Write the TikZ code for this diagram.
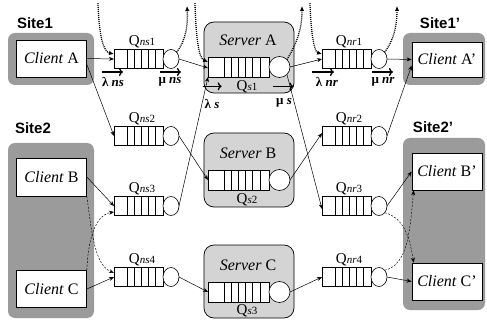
\documentclass[tikz,border=0pt]{standalone}
\usepackage{fontspec}
\setmainfont{Liberation Serif}
\newfontfamily\sitefont{Liberation Sans}
\usetikzlibrary{arrows.meta,calc,shapes.geometric}
\definecolor{sitegray}{HTML}{9B9B9B}
\definecolor{srvgray}{HTML}{D4D4D4}
\tikzset{
  sitebox/.style={fill=sitegray, draw=none, rounded corners=7pt, inner sep=0},
  sitelabel/.style={font=\sitefont\bfseries\fontsize{15}{17}\selectfont, inner sep=0},
  client/.style={draw, fill=white, line width=0.7pt, minimum width=70pt, minimum height=37pt, inner sep=0, font=\fontsize{16}{18}\selectfont},
  srvbox/.style={draw, fill=srvgray, rounded corners=10pt, line width=0.7pt, minimum width=90pt, inner sep=0},
  txt/.style={font=\fontsize{15}{17}\selectfont, inner sep=0},
  srvtxt/.style={font=\fontsize{16}{18}\selectfont, inner sep=0},
  ratelbl/.style={font=\bfseries\fontsize{13}{15}\selectfont, inner sep=0},
  nq/.style={draw, fill=white, line width=0.6pt, minimum width=49pt, minimum height=19pt, inner sep=0, outer sep=0,
    path picture={\foreach \o in {13,20,27,34,41}{\draw[line width=0.6pt] ([xshift=\o pt]path picture bounding box.north west) -- ([xshift=\o pt]path picture bounding box.south west);}}},
  sq/.style={draw, fill=white, line width=0.6pt, minimum width=61pt, minimum height=20pt, inner sep=0, outer sep=0,
    path picture={\foreach \o in {16,23,30,37,44,52}{\draw[line width=0.6pt] ([xshift=\o pt]path picture bounding box.north west) -- ([xshift=\o pt]path picture bounding box.south west);}}},
  nc/.style={draw, fill=white, ellipse, line width=0.6pt, minimum width=16pt, minimum height=19pt, inner sep=0, outer sep=0},
  srvcirc/.style={draw, fill=white, circle, line width=0.6pt, minimum size=21pt, inner sep=0, outer sep=0},
  conn/.style={-{Stealth[length=5pt,width=4pt]}, line width=0.5pt},
  dconn/.style={-{Stealth[length=5pt,width=4pt]}, line width=0.45pt, dash pattern=on 2pt off 1.5pt},
  dotconn/.style={-{Latex[length=5pt,width=4.5pt]}, line width=1.3pt, dash pattern=on 1pt off 1pt},
  rate/.style={-{To[length=4pt,width=8pt,line width=1.3pt]}, line width=1.4pt},
}
\newcommand{\Qlab}[1]{Q{\fontsize{11}{12}\selectfont #1}}
\begin{document}
\begin{tikzpicture}[x=1pt,y=-1pt]
\useasboundingbox (0,0) rectangle (487,323);
% sites
\node[sitebox, minimum width=86pt, minimum height=52pt] (S1) at (51,59) {};
\node[sitebox, minimum width=86pt, minimum height=175pt] (S2) at (51,230.5) {};
\node[sitebox, minimum width=82pt, minimum height=52pt] (S1p) at (444,59) {};
\node[sitebox, minimum width=82pt, minimum height=172pt] (S2p) at (444,224) {};
\node[sitelabel] (L1) at (35,23) {Site1};
\node[sitelabel] (L2) at (33,128) {Site2};
\node[sitelabel] (L1p) at (440,23) {Site1’};
\node[sitelabel] (L2p) at (433,127) {Site2’};
% clients
\node[client] (CA) at (51.5,58.5) {\textit{Client} A};
\node[client, minimum height=38pt] (CB) at (51.5,177) {\textit{Client} B};
\node[client] (CC) at (51.5,289) {\textit{Client} C};
\node[client, minimum height=35pt] (CAp) at (447,59.5) {\textit{Client} A’};
\node[client] (CBp) at (447,171.5) {\textit{Client} B’};
\node[client] (CCp) at (447,281.5) {\textit{Client} C’};
% servers
\node[srvbox, minimum height=71pt] (SA) at (249,57.5) {};
\node[srvbox, minimum height=74pt] (SB) at (249,170) {};
\node[srvbox, minimum height=73pt] (SC) at (249,281.5) {};
\node[srvtxt] (SAt) at (248,40) {\textit{Server} A};
\node[srvtxt] (SBt) at (248,153) {\textit{Server} B};
\node[srvtxt] (SCt) at (248,265) {\textit{Server} C};
\node[sq] (SAq) at (238.5,67) {};
\node[srvcirc, anchor=west] (SAc) at (SAq.east) {};
\node[sq] (SBq) at (238.5,180) {};
\node[srvcirc, anchor=west] (SBc) at (SBq.east) {};
\node[sq] (SCq) at (238.5,292) {};
\node[srvcirc, anchor=west] (SCc) at (SCq.east) {};
\node[txt] (SAl) at (247,87) {\Qlab{\textit{s}1}};
\node[txt] (SBl) at (247,200) {\Qlab{\textit{s}2}};
\node[txt] (SCl) at (247,311) {\Qlab{\textit{s}3}};
% left and right queues
\foreach \n/\y in {1/59,2/136,3/206,4/277}{
  \node[nq] (Qns\n) at (138.5,\y) {};
  \node[nc, anchor=west] (Qns\n c) at (Qns\n.east) {};
  \node[txt] (Lns\n) at (142,\y-17) {\Qlab{\textit{ns}\n}};
  \node[nq] (Qnr\n) at (346.5,\y) {};
  \node[nc, anchor=west] (Qnr\n c) at (Qnr\n.east) {};
  \node[txt] (Lnr\n) at (349,\y-17) {\Qlab{\textit{nr}\n}};
}
% rate arrows and labels
\draw[rate] ($(Qns1.west)+(-12,13)$) -- ++(21,0);
\draw[rate] ($(Qns1c.west)+(-3,13)$) -- ++(21,0);
\draw[rate] ($(SA.south west)+(-1,-7)$) -- ++(19,0);
\draw[rate] ($(SA.south east)+(-21,-7)$) -- ++(20,0);
\draw[rate] ($(Qnr1.west)+(-10,13)$) -- ++(22,0);
\draw[rate] ($(Qnr1c.west)+(1,13)$) -- ++(21,0);
\node[ratelbl] (lns) at ($(Qns1.west)+(-1,23)$) {λ \textit{ns}};
\node[ratelbl] (mns) at ($(Qns1c.west)+(7,23)$) {μ \textit{ns}};
\node[ratelbl] (ls) at (212,104) {λ \textit{s}};
\node[ratelbl] (ms) at (284,103) {μ \textit{s}};
\node[ratelbl] (lnr) at ($(Qnr1.west)+(5,23)$) {λ \textit{nr}};
\node[ratelbl] (mnr) at ($(Qnr1c.west)+(12,23)$) {μ \textit{nr}};
% client -> queue
\draw[conn] (CA.east) -- (Qns1.west);
\draw[conn] ([yshift=-6pt]CA.east) -- (Qns2.west);
\draw[conn] (CB.east) -- (Qns3.west);
\draw[conn] (CC.east) -- (Qns4.west);
\draw[dconn] (CB.south east) .. controls (92,235) and (95,265) .. ([yshift=4pt]Qns4.west);
\draw[dconn] (CC.north east) .. controls (88,240) and (95,215) .. ([yshift=-6pt]Qns3.west);
% queue -> servers
\draw[conn] (Qns1c.east) -- ([yshift=-1pt]SAq.west);
\draw[conn] (Qns3c.east) -- (SAq.south west);
\draw[conn] (Qns2c.east) -- (SBq.west);
\draw[conn] (Qns4c.east) -- (SCq.west);
% servers -> return queues
\draw[conn] (SAc.east) -- (Qnr1.west);
\draw[conn] (SAc.south east) -- ([yshift=-3pt]Qnr3.west);
\draw[conn] (SBc.east) -- ([yshift=3pt]Qnr2.west);
\draw[conn] (SCc.east) -- (Qnr4.west);
% return queues -> clients
\draw[conn] (Qnr1c.east) -- (CAp.west);
\draw[conn] (Qnr2c.east) -- ([yshift=-6pt]CAp.west);
\draw[conn] (Qnr3c.east) -- (CBp.west);
\draw[conn] (Qnr4c.east) -- (CCp.west);
\draw[dconn] (Qnr3c.south east) .. controls (405,218) and (410,240) .. ([xshift=2pt]CCp.north west);
\draw[dconn] (Qnr4c.north east) .. controls (408,265) and (410,230) .. ([xshift=2pt]CBp.south west);
% dotted feedback arrows
\coordinate (d1) at (98,3);
\coordinate (d2) at (187,6);
\coordinate (d3) at (195,3);
\coordinate (d4) at (302,6);
\coordinate (d5) at (310,3);
\coordinate (d6) at (397,6);
\draw[dotconn] (d1) .. controls (99,38) and (104,52) .. ([yshift=5pt]Qns1.west);
\draw[dotconn] (Qns1c.north east) .. controls (186,40) and (188,25) .. (d2);
\draw[dotconn] (d3) .. controls (196,40) and (199,58) .. ([yshift=5pt]SAq.west);
\draw[dotconn] (SAc.north east) .. controls (299,40) and (302,25) .. (d4);
\draw[dotconn] (d5) .. controls (311,38) and (315,52) .. ([yshift=5pt]Qnr1.west);
\draw[dotconn] (Qnr1c.north east) .. controls (394,40) and (397,25) .. (d6);
\end{tikzpicture}
\end{document}
